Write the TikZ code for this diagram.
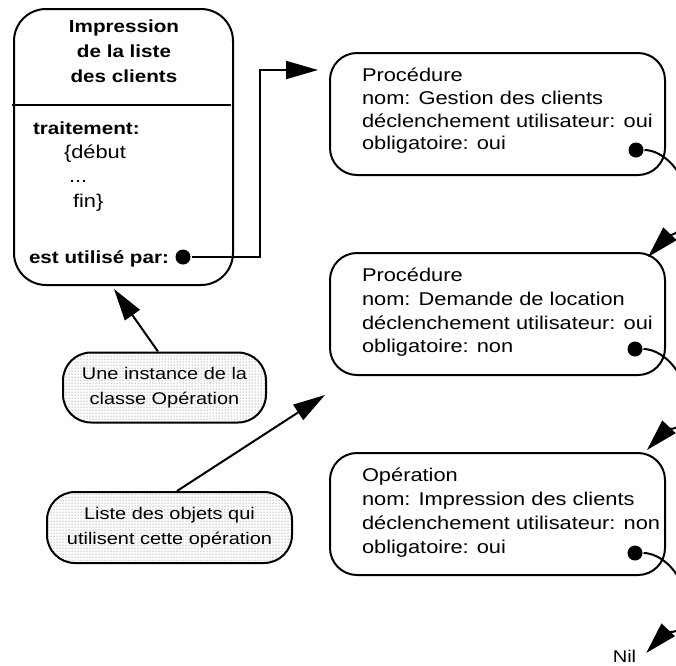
\documentclass[tikz,border=0pt]{standalone}
\usepackage{fontspec}
\setmainfont{Liberation Sans}[FakeStretch=1.18]
\usetikzlibrary{arrows.meta,patterns,calc}
\begin{document}
\begin{tikzpicture}[x=1pt,y=-1pt, line width=2pt,
  objbox/.style={draw, rounded corners=27pt, minimum width=335pt, minimum height=122pt, anchor=north west, inner sep=0pt},
  txt/.style={anchor=base west, inner sep=0pt, font=\fontsize{18.5}{22}\selectfont},
  btxt/.style={anchor=base, inner sep=0pt, font=\fontsize{17.5}{21}\selectfont\bfseries},
  bltxt/.style={anchor=base west, inner sep=0pt, font=\fontsize{17.5}{21}\selectfont\bfseries},
  ltxt/.style={anchor=base west, inner sep=0pt, font=\fontsize{18.5}{22}\selectfont},
  dotpt/.style={circle, fill, inner sep=0pt, minimum size=15pt},
  bigarrow/.style={-{Triangle[length=32pt,width=18pt]}},
  callout/.style={draw, rounded corners=28pt, pattern=dots, pattern color=black!65, align=center, inner sep=0pt, font=\fontsize{16.9}{25}\selectfont}
]
\useasboundingbox (0,0) rectangle (676,665);
\clip (0,0) rectangle (676,665);

% left operation box
\node[draw, rounded corners=32pt, minimum width=219pt, minimum height=276pt, anchor=north west, inner sep=0pt] (opbox) at (13,8) {};
\draw ($(opbox.north west)+(-1,97)$) -- ($(opbox.north east)+(-3,97)$);
\node[btxt] (t1) at (124,32.5) {Impression};
\node[btxt] (t2) at (124,57) {de la liste};
\node[btxt] (t3) at (124,82.5) {des clients};
\node[bltxt] (t4) at (32,134) {traitement:};
\node[ltxt] (t5) at (63,158) {\{début};
\node[ltxt] (t6) at (68,182) {...};
\node[ltxt] (t7) at (72,207) {fin\}};
\node[bltxt] (t8) at (28,263) {est utilisé par:};
\node[dotpt] (d0) at (183,257) {};

% object boxes
\node[objbox] (p1) at (329,52) {};
\node[txt] (p1a) at (361,81) {Procédure};
\node[txt] (p1b) at (361,104) {nom: Gestion des clients};
\node[txt] (p1c) at (361,127) {déclenchement utilisateur: oui};
\node[txt] (p1d) at (361,149.5) {obligatoire: oui};
\node[dotpt] (d1) at (636,150) {};

\node[objbox] (p2) at (329,252) {};
\node[txt] (p2a) at (361,281) {Procédure};
\node[txt] (p2b) at (361,305) {nom: Demande de location};
\node[txt] (p2c) at (361,329) {déclenchement utilisateur: oui};
\node[txt] (p2d) at (361,352.5) {obligatoire: non};
\node[dotpt] (d2) at (635,349) {};

\node[objbox] (p3) at (329,452) {};
\node[txt] (p3a) at (361,481) {Opération};
\node[txt] (p3b) at (361,505.5) {nom: Impression des clients};
\node[txt] (p3c) at (361,529) {déclenchement utilisateur: non};
\node[txt] (p3d) at (361,553) {obligatoire: oui};
\node[dotpt] (d3) at (635,553) {};

\node[inner sep=0pt, anchor=base, font=\fontsize{17}{20}\selectfont] (nil) at (624.5,662) {Nil};

% callouts
\node[callout, minimum width=203pt, minimum height=70pt] (c1) at (164.5,387.5) {Une instance de la\\classe Opération};
\node[callout, minimum width=245pt, minimum height=71pt] (c2) at (169.5,527.5) {Liste des objets qui\\utilisent cette opération};

% connectors
\draw[bigarrow] (d0.east) -| ($(p1.north west)+(-69,18)$) -- ($(p1.north west)+(-11,18)$);

\coordinate (tip1) at ($(p2.north east)+(-18,5)$);
\coordinate (tip2) at ($(p3.north east)+(-19,-2)$);
\coordinate (tip3) at ($(nil.base east)+(9,-9)$);

\draw[bigarrow] (d1.east) .. controls +(16,0) and +(-4,-40) .. ($(d1)+(54,58)$)
  .. controls +(0,23) and +(18,-19) .. (tip1);
\draw[bigarrow] (d2.east) .. controls +(16,0) and +(-4,-40) .. ($(d2)+(54,58)$)
  .. controls +(0,23) and +(18,-19) .. (tip2);
\draw[bigarrow] (d3.east) .. controls +(16,0) and +(-4,-40) .. ($(d3)+(54,58)$)
  .. controls +(0,23) and +(18,-19) .. (tip3);

\draw[bigarrow] ($(c1.north)+(-6.5,0)$) -- ($(opbox.south)+(-9.5,3)$);
\draw[bigarrow] ($(c2.north)+(7.5,0)$) -- ($(p2.south west)+(-4,19)$);
\end{tikzpicture}
\end{document}
